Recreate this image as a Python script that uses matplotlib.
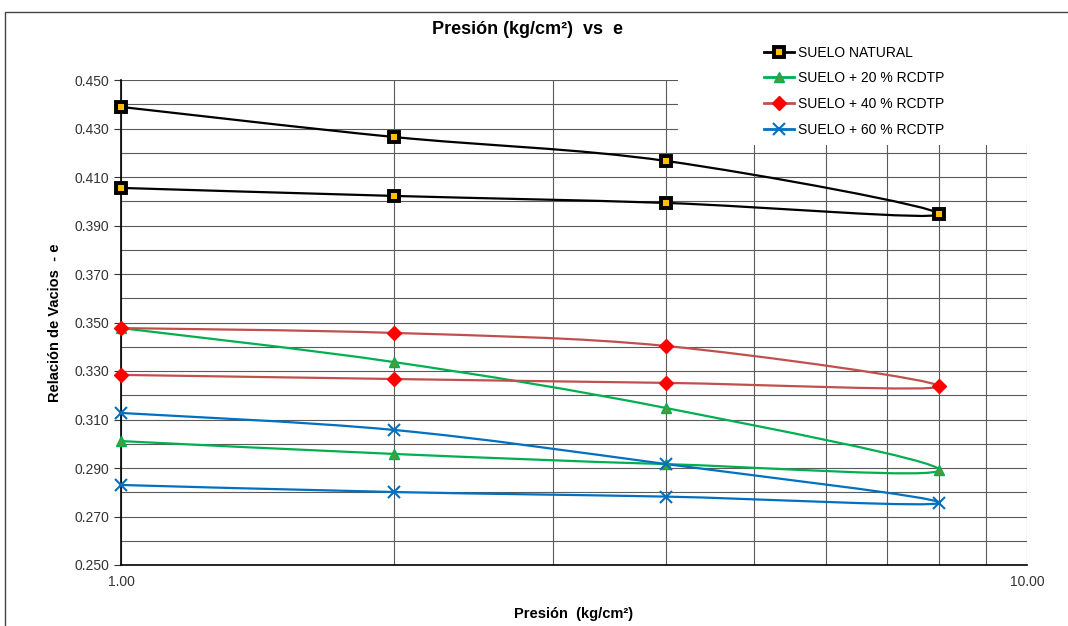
import numpy as np
import matplotlib
matplotlib.use("Agg")
import matplotlib.pyplot as plt
from matplotlib.path import Path
from matplotlib.patches import PathPatch, Rectangle
from matplotlib.lines import Line2D
from matplotlib.ticker import FixedLocator, NullFormatter, FormatStrFormatter

plt.rcParams["font.family"] = ["Liberation Sans", "DejaVu Sans"]

# carga 1-2-4-8, descarga 8-4-2-1
presion = [1, 2, 4, 8, 4, 2, 1]
e_natural = [0.4389, 0.4265, 0.4166, 0.3947, 0.3993, 0.4022, 0.4055]
e_20 = [0.3477, 0.3337, 0.3147, 0.2892, 0.2916, 0.2958, 0.3011]
e_40 = [0.3477, 0.3457, 0.3403, 0.3237, 0.3251, 0.3267, 0.3284]
e_60 = [0.3127, 0.3057, 0.2916, 0.2757, 0.2782, 0.2801, 0.2830]

labels = ["SUELO NATURAL", "SUELO + 20 % RCDTP", "SUELO + 40 % RCDTP", "SUELO + 60 % RCDTP"]
y_ticks = [0.250, 0.270, 0.290, 0.310, 0.330, 0.350, 0.370, 0.390, 0.410, 0.430, 0.450]


def smooth_path(xs, ys):
    # curva suavizada tipo Excel (Catmull-Rom en escala log)
    pts = np.column_stack([np.log10(xs), ys])
    n = len(pts)
    verts = [pts[0]]
    codes = [Path.MOVETO]
    for i in range(n - 1):
        p0 = pts[i - 1] if i > 0 else pts[i]
        p1 = pts[i]
        p2 = pts[i + 1]
        p3 = pts[i + 2] if i + 2 < n else pts[i + 1]
        verts += [p1 + (p2 - p0) / 6, p2 - (p3 - p1) / 6, p2]
        codes += [Path.CURVE4] * 3
    verts = np.array(verts)
    verts[:, 0] = 10 ** verts[:, 0]
    return Path(verts, codes)


fig = plt.figure(figsize=(10.68, 6.26), dpi=100)
ax = fig.add_axes([121 / 1068, 1 - 565 / 626, (1027 - 121) / 1068, (565 - 80) / 626])

ax.set_xscale("log")
ax.set_xlim(1, 10)
ax.set_ylim(0.25, 0.45)

series = [
    (e_natural, "black", dict(marker="s", markersize=7, markerfacecolor="#FFC000",
                              markeredgecolor="black", markeredgewidth=2.8)),
    (e_20, "#00B050", dict(marker="^", markersize=7, markerfacecolor="#4E9A3A",
                           markeredgecolor="#00B050", markeredgewidth=1)),
    (e_40, "#C0504D", dict(marker="D", markersize=7, markerfacecolor="#FF0000",
                           markeredgecolor="#FF0000", markeredgewidth=1)),
    (e_60, "#0070C0", dict(marker="x", markersize=9, markeredgecolor="#0070C0",
                           markeredgewidth=1.5)),
]

handles = []
for (ys, color, mk), label in zip(series, labels):
    ax.add_patch(PathPatch(smooth_path(presion, ys), fill=False, edgecolor=color,
                           linewidth=1.6, zorder=3))
    ax.plot(presion, ys, linestyle="none", zorder=4, clip_on=False, **mk)
    handles.append(Line2D([0], [0], color=color, linewidth=2, label=label, **mk))

# grilla
ax.yaxis.set_major_locator(FixedLocator(y_ticks))
ax.yaxis.set_minor_locator(FixedLocator(np.arange(0.26, 0.45, 0.02)))
ax.yaxis.set_major_formatter(FormatStrFormatter("%.3f"))
ax.xaxis.set_major_locator(FixedLocator([1, 10]))
ax.xaxis.set_major_formatter(FormatStrFormatter("%.2f"))
ax.xaxis.set_minor_locator(FixedLocator([2, 3, 4, 5, 6, 7, 8, 9]))
ax.xaxis.set_minor_formatter(NullFormatter())
ax.grid(True, which="both", color="#5a5a5a", linewidth=0.8)
ax.set_axisbelow(True)

for s in ["top", "right"]:
    ax.spines[s].set_visible(False)
ax.spines["left"].set_linewidth(1.2)
ax.spines["bottom"].set_linewidth(1.2)
ax.tick_params(axis="y", which="major", length=5, labelsize=10, colors="#333333")
ax.tick_params(axis="y", which="minor", length=0)
ax.tick_params(axis="x", which="both", length=0, labelsize=10, colors="#333333", pad=7)

ax.set_xlabel("Presión  (kg/cm²)", fontsize=10.5, fontweight="bold", labelpad=13)
ax.set_ylabel("Relación de Vacios  - e", fontsize=10.5, fontweight="bold", labelpad=9)

fig.text(527 / 1068, 1 - 30 / 626, "Presión (kg/cm²)  vs  e", ha="center", va="center",
         fontsize=13, fontweight="bold")

# fondo blanco de la leyenda sobre la grilla
fig.patches.append(Rectangle((678 / 1068, 1 - 145 / 626), 360 / 1068, 110 / 626,
                             transform=fig.transFigure, facecolor="white",
                             edgecolor="none", zorder=2))
fig.legend(handles=handles, loc="upper left", bbox_to_anchor=(758 / 1068, 1 - 40 / 626),
           frameon=False, fontsize=10, handlelength=2.2, handletextpad=0.3,
           labelspacing=0.85, borderaxespad=0)

# borde del area del grafico
fig.add_artist(Line2D([5 / 1068, 5 / 1068, 1], [0, 1 - 12 / 626, 1 - 12 / 626],
                      transform=fig.transFigure, color="#444444", linewidth=1))

fig.savefig("out.png", dpi=100)
